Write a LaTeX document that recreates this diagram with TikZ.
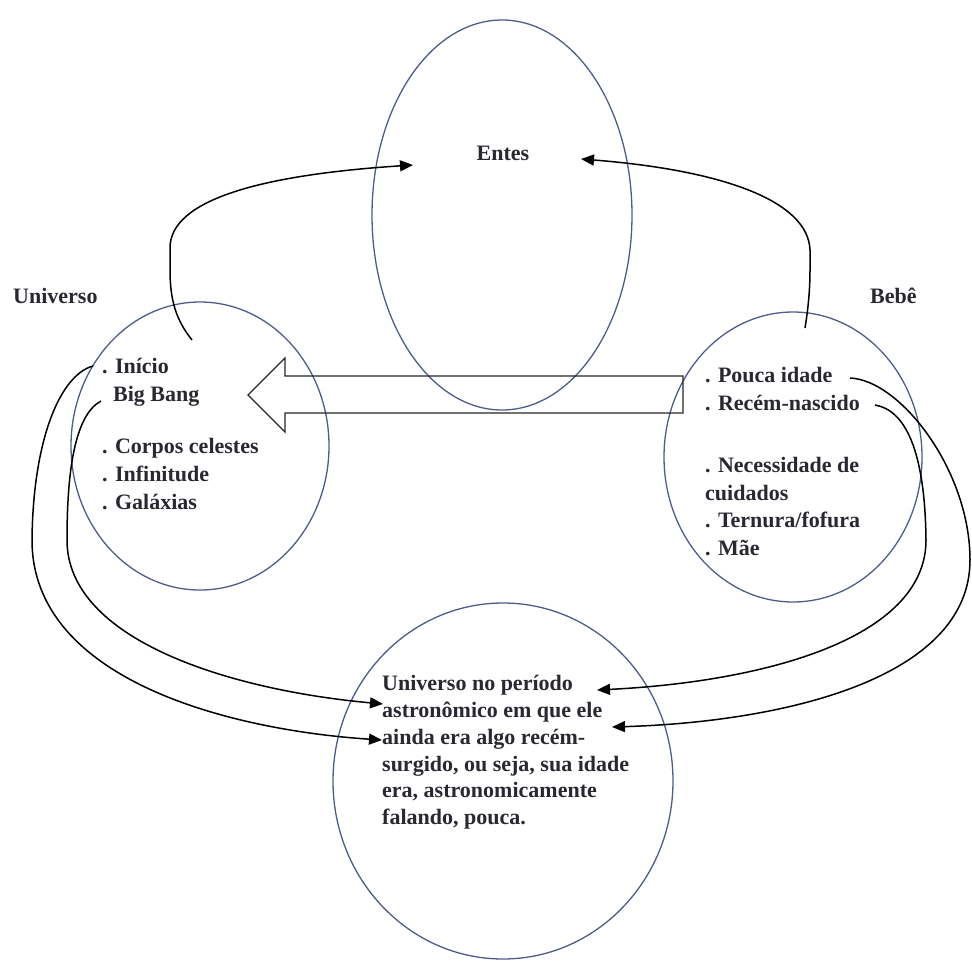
\documentclass[tikz,border=0pt]{standalone}
\usepackage{fontspec}
\setmainfont{Liberation Serif}
\usetikzlibrary{shapes.geometric,arrows.meta}
\definecolor{ellcol}{RGB}{78,92,138}
\definecolor{txtcol}{RGB}{40,40,48}
\newcommand\diagfont{\fontsize{22}{27}\selectfont\bfseries}
\tikzset{
  ell/.style={draw=ellcol, line width=1.3pt, ellipse, inner sep=0pt},
  txt/.style={anchor=base west, inner sep=0pt, font=\diagfont, text=txtcol},
  ctxt/.style={anchor=base, inner sep=0pt, font=\diagfont, text=txtcol},
  conn/.style={draw=black, line width=1.5pt, -{Triangle[length=13pt,width=11pt]}},
  blockarrow/.style={draw=black!85, line width=1.3pt, line join=miter}
}
\begin{document}
\begin{tikzpicture}[x=1pt,y=-1pt]
\useasboundingbox (0,0) rectangle (972,961);
% ellipses
\node[ell, minimum width=260pt, minimum height=390pt] (entes) at (502,215) {};
\node[ell, minimum width=258pt, minimum height=288pt] (univ) at (200,446) {};
\node[ell, minimum width=258pt, minimum height=290pt] (bebe) at (793,457) {};
\node[ell, minimum width=340pt, minimum height=356pt] (meio) at (503,781) {};
% labels
\node[ctxt] (entesT) at (503,160) {Entes};
\node[txt] (univT) at (13,303) {Universo};
\node[txt] (bebeT) at (870,303) {Bebê};
% Universo list
\node[txt] (u1) at (102,373) {. Início};
\node[txt] (u2) at (113,401) {Big Bang};
\node[txt] (u3) at (102,453) {. Corpos celestes};
\node[txt] (u4) at (102,481) {. Infinitude};
\node[txt] (u5) at (102,509) {. Galáxias};
% Bebe list
\node[txt] (b1) at (705,382) {. Pouca idade};
\node[txt] (b2) at (705,410) {. Recém-nascido};
\node[txt] (b3) at (705,472) {. Necessidade de};
\node[txt] (b4) at (705,500) {cuidados};
\node[txt] (b5) at (705,527) {. Ternura/fofura};
\node[txt] (b6) at (705,555) {. Mãe};
% central text
\node[txt] (m1) at (382,690) {Universo no período};
\node[txt] (m2) at (382,717) {astronômico em que ele};
\node[txt] (m3) at (382,744) {ainda era algo recém-};
\node[txt] (m4) at (382,771) {surgido, ou seja, sua idade};
\node[txt] (m5) at (382,797) {era, astronomicamente};
\node[txt] (m6) at (382,824) {falando, pouca.};
% block arrow
\draw[blockarrow] (683,376) -- (285,376) -- (285,358) -- (248,395) -- (285,432) -- (285,413) -- (683,413) -- cycle;
% connector coordinates
\coordinate (sU) at (192,340);
\coordinate (sB) at (805,328);
\coordinate (tEl) at (413,165);
\coordinate (tEr) at (581,159);
\coordinate (sIni) at (93,366);
\coordinate (sBig) at (101,401);
\coordinate (sPou) at (850,378);
\coordinate (sRec) at (875,405);
\coordinate (tL1) at (383,704);
\coordinate (tL2) at (382,740);
\coordinate (tR1) at (597,690);
\coordinate (tR2) at (612,727);
% connectors to Entes
\draw[conn] (sU) .. controls (176,320) and (170,300) .. (170,270) -- (170,248) .. controls (170,200) and (260,175) .. (tEl);
\draw[conn] (sB) .. controls (808,310) and (810,290) .. (810,270) -- (810,250) .. controls (808,200) and (720,170) .. (tEr);
% connectors from Universo
\draw[conn] (sIni) .. controls (60,375) and (33,440) .. (32,540) .. controls (32,680) and (230,730) .. (tL2);
\draw[conn] (sBig) .. controls (75,415) and (67,470) .. (67,540) .. controls (67,640) and (230,690) .. (tL1);
% connectors from Bebe
\draw[conn] (sPou) .. controls (900,380) and (970,470) .. (970,560) .. controls (970,680) and (780,722) .. (tR2);
\draw[conn] (sRec) .. controls (905,410) and (925,450) .. (926,540) .. controls (926,640) and (760,682) .. (tR1);
\end{tikzpicture}
\end{document}
